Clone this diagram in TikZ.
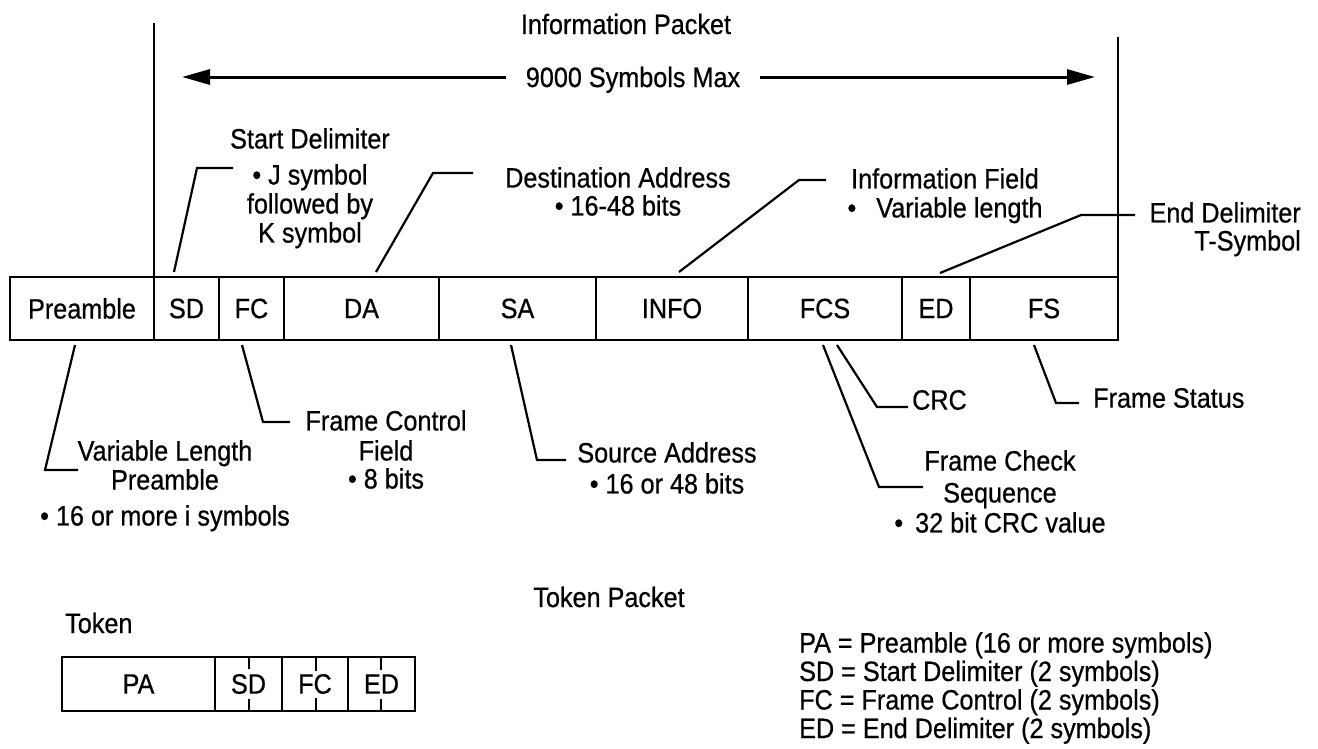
\documentclass[tikz,border=0pt]{standalone}
\usepackage{fontspec}
\setmainfont{Liberation Sans}[FakeStretch=0.9, FakeBold=0.6]
\usetikzlibrary{arrows.meta}
\begin{document}
\begin{tikzpicture}[x=1pt,y=-1pt,
  every node/.style={font=\fontsize{28}{29}\selectfont, inner sep=0pt},
  fld/.style={draw, line width=2.6pt, outer sep=0pt, minimum height=63pt, anchor=north west},
  tfld/.style={draw, line width=2.4pt, outer sep=0pt, minimum height=54pt, anchor=north west},
  lead/.style={line width=2.2pt, line join=miter},
  vline/.style={line width=2.4pt},
  arr/.style={line width=3pt, -{Triangle[length=28pt,width=15pt]}},
  tickmark/.style={line width=2pt},
  lbl/.style={align=center, anchor=north}]
\useasboundingbox (0,0) rectangle (1318,748);

% title and span arrow
\node (title) at (626,24) {Information Packet};
\node[anchor=base] (sym) at (633,87) {9000 Symbols Max};
\coordinate (al) at (182,77);
\coordinate (ar) at (1095,77);
\draw[arr] ([xshift=-20pt]sym.west |- al) -- (al);
\draw[arr] ([xshift=20pt]sym.east |- ar) -- (ar);

% frame fields
\node[fld, minimum width=144pt] (pre)  at (10,277)  {Preamble};
\node[fld, minimum width=65pt]  (sd)   at (154,277) {SD};
\node[fld, minimum width=65pt]  (fc)   at (219,277) {FC};
\node[fld, minimum width=155pt] (da)   at (284,277) {DA};
\node[fld, minimum width=157pt] (sa)   at (439,277) {SA};
\node[fld, minimum width=152pt] (info) at (596,277) {INFO};
\node[fld, minimum width=154pt] (fcs)  at (748,277) {FCS};
\node[fld, minimum width=68pt]  (ed)   at (902,277) {ED};
\node[fld, minimum width=148pt] (fs)   at (970,277) {FS};

% vertical boundary lines
\coordinate (ltop) at (154,23);
\coordinate (rtop) at (1118,37);
\draw[vline] (ltop) -- (sd.north west);
\draw[vline] (rtop) -- (fs.north east);

% upper leaders
\draw[lead] ([xshift=-12.5pt,yshift=5pt]sd.north) -- ++(23,-104) -- ++(36,0);
\draw[lead] ([xshift=14.5pt,yshift=5pt]da.north) -- ++(57,-99) -- ++(40,0);
\draw[lead] ([xshift=7pt,yshift=5pt]info.north) -- ++(120,-92) -- ++(27,0);
\draw[lead] ([xshift=4pt,yshift=4pt]ed.north) -- ++(141,-58) -- ++(54,0);

% upper labels
\node[lbl] (sdl) at (310,128) {Start Delimiter\\[7pt]• J symbol\\followed by\\K symbol};
\node[lbl] (dal) at (618,167) {Destination Address\\[-1pt]• 16-48 bits};
\node[lbl] (infol) at (945,168) {Information Field\\•\hspace{20pt}Variable length};
\node[align=right, anchor=north east] (edl) at (1301,202) {End Delimiter\\[-1pt]T-Symbol};

% lower leaders
\draw[lead] ([xshift=-7pt,yshift=-5pt]pre.south) -- ++(-30,125) -- ++(33,0);
\draw[lead] ([xshift=-9.5pt,yshift=-5pt]fc.south) -- ++(21,77) -- ++(27,0);
\draw[lead] ([xshift=-6.5pt,yshift=-5pt]sa.south) -- ++(26,115) -- ++(29,0);
\draw[lead] ([xshift=-2pt,yshift=-5pt]fcs.south) -- ++(56,142) -- ++(44,0);
\draw[lead] ([xshift=12pt,yshift=-5pt]fcs.south) -- ++(40,62) -- ++(31,0);
\draw[lead] ([xshift=-10pt,yshift=-5pt]fs.south) -- ++(22,58) -- ++(23,0);

% lower labels
\node[lbl] (prel) at (165,440) {Variable Length\\Preamble\\[7pt]• 16 or more i symbols};
\node[lbl] (fcl) at (386,410) {Frame Control\\[1pt]Field\\[-1pt]• 8 bits};
\node[lbl] (sal) at (667,442) {Source Address\\[2pt]• 16 or 48 bits};
\node[anchor=west] (crcl) at (912,400) {CRC};
\node[lbl] (fcsl) at (1000,450) {Frame Check\\[3pt]Sequence\\[1pt]•\hspace{12pt}32 bit CRC value};
\node[anchor=west] (fsl) at (1093,398) {Frame Status};

% token packet
\node (tp) at (609,597) {Token Packet};
\node[anchor=west] (tok) at (65,623) {Token};
\node[tfld, minimum width=153pt] (tpa) at (62,657)  {PA};
\node[tfld, minimum width=67pt]  (tsd) at (215,657) {SD};
\node[tfld, minimum width=66pt]  (tfc) at (282,657) {FC};
\node[tfld, minimum width=67pt]  (ted) at (348,657) {ED};
\draw[tickmark] ([xshift=0.5pt]tsd.north) -- ++(0,12);
\draw[tickmark] ([xshift=0.5pt]tsd.south) -- ++(0,-12);
\draw[tickmark] ([xshift=1pt]tfc.north) -- ++(0,14);
\draw[tickmark] ([xshift=1pt]tfc.south) -- ++(0,-13);
\draw[tickmark] ([xshift=-0.5pt]ted.north) -- ++(0,13);
\draw[tickmark] ([xshift=-0.5pt]ted.south) -- ++(0,-12);

% legend
\node[align=left, anchor=north west, font=\fontsize{28}{28.5}\selectfont] (leg) at (799,632) {PA = Preamble (16 or more symbols)\\SD = Start Delimiter (2 symbols)\\FC = Frame Control (2 symbols)\\ED = End Delimiter (2 symbols)};
\end{tikzpicture}
\end{document}
